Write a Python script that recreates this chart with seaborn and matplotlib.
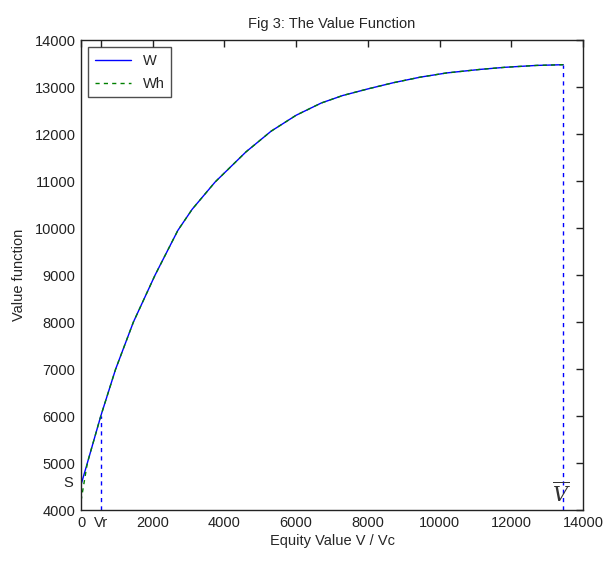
import numpy as np
import pandas as pd
import matplotlib
matplotlib.use("Agg")
import matplotlib.pyplot as plt
import seaborn as sns

# Data
V = [0, 175, 550, 965, 1460, 2065, 2700, 3100, 3740, 4600, 5300, 6000, 6700,
     7300, 8000, 8700, 9460, 10200, 11130, 11830, 12710, 13450]
W = [4540, 5000, 6000, 7000, 8000, 9000, 9950, 10400, 10980, 11620, 12060,
     12400, 12660, 12820, 12960, 13090, 13210, 13300, 13375, 13420, 13460, 13475]
Wh = [4200, 5000, 6000, 7000, 8000, 9000, 9950, 10400, 10980, 11620, 12060,
      12400, 12660, 12820, 12960, 13090, 13210, 13300, 13375, 13420, 13460, 13475]
Vr = 550
Vbar = 13450
x_ticks = [0, 2000, 4000, 6000, 8000, 10000, 12000, 14000]
y_ticks = [4000, 5000, 6000, 7000, 8000, 9000, 10000, 11000, 12000, 13000, 14000]

sns.set_theme(style="white")
plt.rcParams['font.family'] = ['Liberation Sans Narrow', 'Liberation Sans', 'DejaVu Sans']
plt.rcParams['mathtext.fontset'] = 'dejavuserif'

fig = plt.figure(figsize=(6.05, 5.63), dpi=100)
ax = fig.add_axes([0.134, 0.0941, 0.8296, 0.8348])

df = pd.DataFrame({"V": V, "W": W, "Wh": Wh})
sns.lineplot(data=df, x="V", y="W", ax=ax, color="#0000ff", lw=1.0, label="W")
sns.lineplot(data=df, x="V", y="Wh", ax=ax, color="#008000", lw=1.0,
             linestyle=(0, (3, 3)), label="Wh")

Wr = np.interp(Vr, V, W)
Wbar = np.interp(Vbar, V, W)
ax.plot([Vr, Vr], [4000, Wr], color="#0000ff", lw=1.0, linestyle=(0, (3, 3)))
ax.plot([Vbar, Vbar], [4000, Wbar], color="#0000ff", lw=1.0, linestyle=(0, (3, 3)))

ax.set_xlim(0, 14000)
ax.set_ylim(4000, 14000)
xt = [0, Vr] + x_ticks[1:]
xl = ["0", "Vr"] + [str(t) for t in x_ticks[1:]]
ax.set_xticks(xt)
ax.set_xticklabels(xl)
ax.set_yticks(y_ticks)
ax.set_yticklabels([str(t) for t in y_ticks])
ax.tick_params(direction="in", length=5, width=1, top=True, right=True,
               labelsize=10.5, colors="#222222", pad=4)
for s in ax.spines.values():
    s.set_color("#222222")
    s.set_linewidth(1.0)

ax.text(-230, 4575, "S", ha="right", va="center", fontsize=10.5, color="#222222")
ax.text(Vbar - 60, 4340, r"$\overline{V}$", ha="center", va="center", fontsize=15,
        color="#333333")

ax.set_title("Fig 3: The Value Function", fontsize=10.5, pad=9)
ax.set_xlabel("Equity Value V / Vc", fontsize=10.5, labelpad=3)
ax.set_ylabel("Value function", fontsize=10.5, labelpad=6)

leg = ax.legend(loc="upper left", fontsize=10.5, frameon=True, fancybox=False,
                edgecolor="#222222", borderpad=0.45, handlelength=2.5,
                labelspacing=0.6, borderaxespad=0.5)
leg.get_frame().set_linewidth(1.0)

fig.savefig("out.png", dpi=100, facecolor="white")
